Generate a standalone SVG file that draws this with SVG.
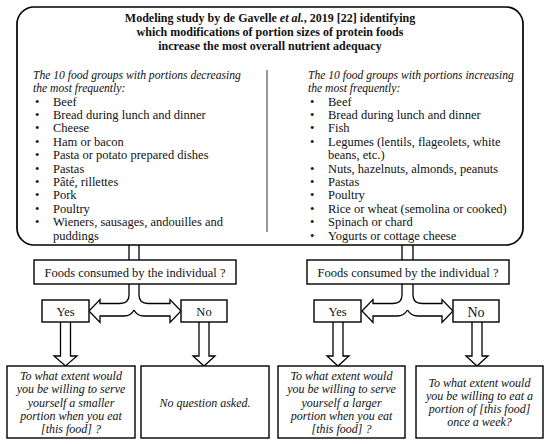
<svg xmlns="http://www.w3.org/2000/svg" width="550" height="444" viewBox="0 0 550 444">
<style>
.box{fill:#fff;stroke:#000;stroke-width:1.4}
.ln{fill:#fff;stroke:#000;stroke-width:1.3;stroke-linejoin:miter}
.t{font-family:"Liberation Serif","Times New Roman",serif;font-size:12.5px;fill:#111}
.b{font-weight:bold;font-size:12px}
.i{font-style:italic;font-size:12px}
.h{font-style:italic;font-size:11.6px}
.c{text-anchor:middle}
</style>
<rect width="550" height="444" fill="#fff"/>
<g id="main">
<rect class="box" x="17" y="7" width="506" height="238" rx="17" ry="17" style="stroke-width:1.7"/>
<text class="t b c" x="270" y="22">Modeling study by de Gavelle <tspan font-style="italic">et al.</tspan>, 2019 [22] identifying</text>
<text class="t b c" x="270" y="36">which modifications of portion sizes of protein foods</text>
<text class="t b c" x="270" y="50">increase the most overall nutrient adequacy</text>
<line x1="267" y1="70" x2="267" y2="232" stroke="#555" stroke-width="1.2"/>
<text class="t h" x="33" y="79">The 10 food groups with portions decreasing</text>
<text class="t h" x="33" y="92">the most frequently:</text>
<g class="t">
<text x="35" y="105.5">•</text><text x="53" y="105.5">Beef</text>
<text x="35" y="118.9">•</text><text x="53" y="118.9">Bread during lunch and dinner</text>
<text x="35" y="132.3">•</text><text x="53" y="132.3">Cheese</text>
<text x="35" y="145.7">•</text><text x="53" y="145.7">Ham or bacon</text>
<text x="35" y="159.1">•</text><text x="53" y="159.1">Pasta or potato prepared dishes</text>
<text x="35" y="172.5">•</text><text x="53" y="172.5">Pastas</text>
<text x="35" y="185.9">•</text><text x="53" y="185.9">Pâté, rillettes</text>
<text x="35" y="199.3">•</text><text x="53" y="199.3">Pork</text>
<text x="35" y="212.7">•</text><text x="53" y="212.7">Poultry</text>
<text x="35" y="226.1">•</text><text x="53" y="226.1">Wieners, sausages, andouilles and</text>
<text x="53" y="239.5">puddings</text>
</g>
<text class="t h" x="308" y="79">The 10 food groups with portions increasing</text>
<text class="t h" x="308" y="92">the most frequently:</text>
<g class="t">
<text x="310" y="105.5">•</text><text x="328" y="105.5">Beef</text>
<text x="310" y="118.9">•</text><text x="328" y="118.9">Bread during lunch and dinner</text>
<text x="310" y="132.3">•</text><text x="328" y="132.3">Fish</text>
<text x="310" y="145.7">•</text><text x="328" y="145.7">Legumes (lentils, flageolets, white</text>
<text x="328" y="159.1">beans, etc.)</text>
<text x="310" y="172.5">•</text><text x="328" y="172.5">Nuts, hazelnuts, almonds, peanuts</text>
<text x="310" y="185.9">•</text><text x="328" y="185.9">Pastas</text>
<text x="310" y="199.3">•</text><text x="328" y="199.3">Poultry</text>
<text x="310" y="212.7">•</text><text x="328" y="212.7">Rice or wheat (semolina or cooked)</text>
<text x="310" y="226.1">•</text><text x="328" y="226.1">Spinach or chard</text>
<text x="310" y="239.5">•</text><text x="328" y="239.5">Yogurts or cottage cheese</text>
</g>
</g>
<g id="connectors">
<path class="ln" d="M129,245 V260 M139,245 V260"/>
<path class="ln" d="M402,245 V260 M413,245 V260"/>
<path class="ln" d="M129,284 V295 Q129,303.5 120,303.5 H100 V299.5 L89,311 L100,322.5 V316 H124 Q131,316 134,310"/>
<path class="ln" d="M139,284 V295 Q139,303.5 148,303.5 H170 V299.5 L181,311 L170,322.5 V316 H144 Q137,316 134,310"/>
<path class="ln" d="M402,284 V295 Q402,303.5 393,303.5 H373 V299.5 L362,311 L373,322.5 V316 H397 Q404,316 407.5,310"/>
<path class="ln" d="M413,284 V295 Q413,303.5 422,303.5 H442 V299.5 L453,311 L442,322.5 V316 H418 Q411,316 407.5,310"/>
<path class="ln" d="M60.5,322 V356 H54 L65.5,366 L77,356 H70.5 V322"/>
<path class="ln" d="M199,322 V356 H193 L204,366 L215,356 H209 V322"/>
<path class="ln" d="M333,322 V356 H327 L338,366 L349,356 H343 V322"/>
<path class="ln" d="M472,322 V356 H466 L477,366 L488,356 H482 V322"/>
</g>
<g id="q-left">
<rect class="box" x="34" y="260" width="202" height="24"/>
<text class="t c" x="135" y="276.5">Foods consumed by the individual ?</text>
</g>
<g id="q-right">
<rect class="box" x="307" y="260" width="202" height="24"/>
<text class="t c" x="408" y="276.5">Foods consumed by the individual ?</text>
</g>
<g id="yes-left">
<rect class="box" x="42" y="300" width="47" height="22"/>
<text class="t c" x="65.5" y="315.5">Yes</text>
</g>
<g id="no-left">
<rect class="box" x="181" y="300" width="46" height="22"/>
<text class="t c" x="204" y="315.5">No</text>
</g>
<g id="yes-right">
<rect class="box" x="314" y="300" width="47" height="22"/>
<text class="t c" x="337.5" y="315.5">Yes</text>
</g>
<g id="no-right">
<rect class="box" x="453" y="300" width="46" height="22"/>
<text class="t c" x="476" y="316.5" style="font-size:14px">No</text>
</g>
<g id="ans-1">
<rect class="box" x="7" y="366" width="128" height="72"/>
<text class="t i c" x="71" y="380">To what extent would</text>
<text class="t i c" x="71" y="393.3">you be willing to serve</text>
<text class="t i c" x="71" y="406.6">yourself a smaller</text>
<text class="t i c" x="71" y="420">portion when you eat</text>
<text class="t i c" x="71" y="433.3">[this food] ?</text>
</g>
<g id="ans-2">
<rect class="box" x="141" y="366" width="128" height="72"/>
<text class="t i c" x="205" y="407">No question asked.</text>
</g>
<g id="ans-3">
<rect class="box" x="278" y="366" width="127" height="72"/>
<text class="t i c" x="341.5" y="380">To what extent would</text>
<text class="t i c" x="341.5" y="393.3">you be willing to serve</text>
<text class="t i c" x="341.5" y="406.6">yourself a larger</text>
<text class="t i c" x="341.5" y="420">portion when you eat</text>
<text class="t i c" x="341.5" y="433.3">[this food] ?</text>
</g>
<g id="ans-4">
<rect class="box" x="416" y="366" width="127" height="72"/>
<text class="t i c" x="479.5" y="387">To what extent would</text>
<text class="t i c" x="479.5" y="400">you be willing to eat a</text>
<text class="t i c" x="479.5" y="413">portion of [this food]</text>
<text class="t i c" x="479.5" y="426">once a week?</text>
</g>
</svg>
